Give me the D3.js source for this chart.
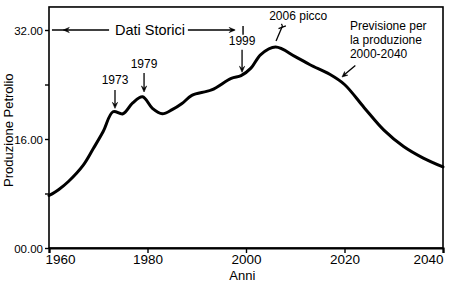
<!DOCTYPE html>
<html>
<head>
<meta charset="utf-8">
<script src="https://cdn.jsdelivr.net/npm/d3@7"></script>
<style>
  html, body { margin: 0; padding: 0; background: #fff; }
  svg { display: block; font-family: "Liberation Sans", Arial, sans-serif; }
</style>
</head>
<body>
<svg id="chart" width="450" height="282"></svg>
<script>
// ---- data ----
const years = [1960, 1962, 1964, 1967, 1969, 1971, 1973, 1975, 1977, 1979, 1981, 1983, 1985, 1987, 1989,
               1993, 1997, 1999, 2001, 2003, 2006, 2010, 2013, 2017, 2020, 2024, 2028, 2032, 2036, 2040];
const production = [7.7, 8.6, 9.8, 12.2, 14.6, 17.1, 20.0, 19.7, 21.3, 22.2, 20.5, 19.7, 20.3, 21.2, 22.4,
                    23.2, 24.9, 25.3, 26.4, 28.4, 29.5, 28.1, 26.9, 25.5, 24.0, 20.6, 17.3, 14.9, 13.2, 11.9];
const xTicks = [1960, 1980, 2000, 2020, 2040];
const yTicks = [0, 8, 16, 24, 32];
const yTickLabels = ["00.00", "", "16.00", "", "32.00"];
const yLabel = "Produzione Petrolio";
const xLabel = "Anni";
// year-marker annotations: [label, year, labelValue, arrowFrom, arrowTo]
const markerNotes = [
  ["1973", 1973.4, 24.1, 23.2, 20.5],
  ["1979", 1979.3, 26.4, 25.7, 22.9],
  ["1999", 1999.2, 29.8, 29.1, 25.8]
];
const forecastLines = ["Previsione per", "la produzione", "2000-2040"];

// ---- layout ----
const svg = d3.select("#chart");
const x = d3.scaleLinear().domain([1960, 2040]).range([49, 443]);
const y = d3.scaleLinear().domain([0, 32]).range([248, 30]);
const yTop = 35.38;

// frame
svg.append("rect")
  .attr("x", x(1960)).attr("y", y(yTop))
  .attr("width", x(2040) - x(1960)).attr("height", y(0) - y(yTop))
  .attr("fill", "none").attr("stroke", "#000").attr("stroke-width", 1.6);

// y axis
const yAxis = svg.append("g").attr("transform", `translate(${x(1960)},0)`)
  .call(d3.axisLeft(y).tickValues(yTicks).tickSize(4).tickPadding(2)
    .tickFormat((d, i) => yTickLabels[i]));
yAxis.select(".domain").remove();
yAxis.selectAll("line").attr("stroke", "#000").attr("stroke-width", 1.4);
yAxis.selectAll("text").attr("font-size", 11.5).attr("fill", "#000")
  .attr("font-family", "Liberation Sans, Arial, sans-serif").attr("dy", "0.36em");

// x axis
const xAxis = svg.append("g").attr("transform", `translate(0,${y(0)})`)
  .call(d3.axisBottom(x).tickValues(xTicks).tickSize(5).tickFormat(d3.format("d")));
xAxis.select(".domain").attr("stroke", "#000").attr("stroke-width", 2.2);
xAxis.selectAll("line").attr("stroke", "#000").attr("stroke-width", 1.4);
xAxis.selectAll("text").attr("font-size", 13.5).attr("fill", "#000")
  .attr("font-family", "Liberation Sans, Arial, sans-serif")
  .attr("dy", null).attr("y", 16)
  .attr("text-anchor", (d, i) => i === 0 ? "start" : (i === xTicks.length - 1 ? "end" : "middle"))
  .attr("dx", (d, i) => i === 0 ? -4 : 0);

// axis titles
svg.append("text")
  .attr("transform", `translate(13,${y(17.3)}) rotate(-90)`)
  .attr("text-anchor", "middle").attr("font-size", 13).text(yLabel);
svg.append("text").attr("x", x(1996.6)).attr("y", 279.5)
  .attr("font-size", 13).text(xLabel);

// line
const line = d3.line().x((d, i) => x(years[i])).y(d => y(d)).curve(d3.curveCatmullRom.alpha(0.5));
svg.append("path").datum(production)
  .attr("d", line).attr("fill", "none").attr("stroke", "#000")
  .attr("stroke-width", 3).attr("stroke-linejoin", "round").attr("stroke-linecap", "round");

// arrowhead helper (filled triangle, tip at (tx,ty), direction angle in radians)
function head(tx, ty, ang, len = 6, wid = 2.6) {
  const bx = tx - len * Math.cos(ang), by = ty - len * Math.sin(ang);
  const px = -Math.sin(ang) * wid, py = Math.cos(ang) * wid;
  svg.append("path")
    .attr("d", `M${tx},${ty}L${bx + px},${by + py}L${bx + 0.4*(tx-bx)},${by + 0.4*(ty-by)}L${bx - px},${by - py}Z`)
    .attr("fill", "#000").attr("stroke", "#000").attr("stroke-width", 0.6);
}
function seg(x1, y1, x2, y2, w = 1.3) {
  svg.append("line").attr("x1", x1).attr("y1", y1).attr("x2", x2).attr("y2", y2)
    .attr("stroke", "#000").attr("stroke-width", w);
}

// Dati Storici
svg.append("text").attr("x", x(1980.5)).attr("y", y(31.27))
  .attr("text-anchor", "middle").attr("font-size", 14.5).text("Dati Storici");
seg(x(1960.6), y(32), x(1972.2), y(32));
head(x(1962.9), y(32), Math.PI);
seg(x(1988.2), y(32), x(1997.6), y(32));
head(x(1997.8), y(32), 0);
seg(x(1999.4), y(32.6), x(1999.4), y(31.3), 1.4);

// year markers
markerNotes.forEach(([lab, yr, lv, a0, a1]) => {
  svg.append("text").attr("x", x(yr)).attr("y", y(lv))
    .attr("text-anchor", "middle").attr("font-size", 12).text(lab);
  seg(x(yr), y(a0), x(yr), y(a1) - 3);
  head(x(yr), y(a1), Math.PI / 2);
});

// 2006 picco
svg.append("text").attr("x", x(2010.6)).attr("y", y(33.5))
  .attr("text-anchor", "middle").attr("font-size", 12).text("2006 picco");
seg(x(2007.4), y(32.6), x(2006.1), y(30.4));
seg(x(2006.6), y(32.2), x(2008.1), y(32.6), 1.2);
seg(x(2007.2), y(32.9), x(2007.4), y(32.6), 1.2);

// Previsione
const prev = svg.append("text").attr("font-size", 12);
forecastLines.forEach((t, i) => {
  prev.append("tspan").attr("x", x(2021.1)).attr("y", y(32.0) + i * 14).text(t);
});
seg(x(2022.2), y(26.8), x(2019.9), y(25.4));
head(x(2019.5), y(25.1), Math.atan2(y(25.1) - y(26.8), x(2019.5) - x(2022.2)), 5.5, 2.4);
</script>
</body>
</html>
